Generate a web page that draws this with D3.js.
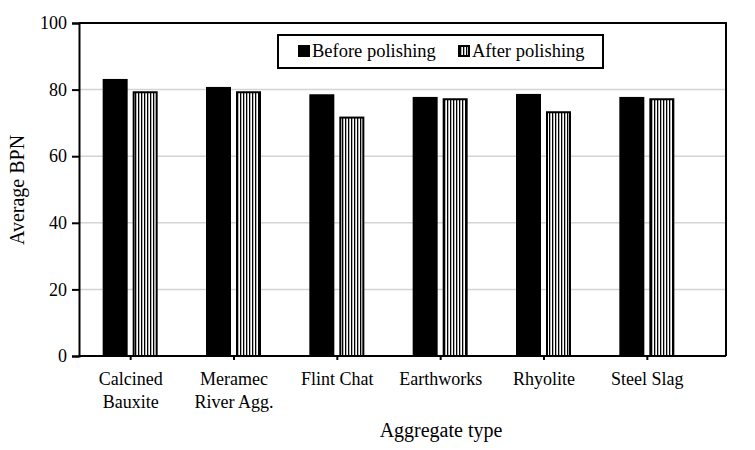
<!DOCTYPE html>
<html>
<head>
<meta charset="utf-8">
<script src="https://cdn.jsdelivr.net/npm/d3@7"></script>
<style>
  body { margin: 0; background: #fff; }
  svg text { font-family: "Liberation Serif", "Times New Roman", serif; fill: #000; }
</style>
</head>
<body>
<div id="chart"></div>
<script>
// data
var categories = [["Calcined", "Bauxite"], ["Meramec", "River Agg."], ["Flint Chat"], ["Earthworks"], ["Rhyolite"], ["Steel Slag"]];
var beforeValues = [83.2, 80.8, 78.6, 77.8, 78.7, 77.8];
var afterValues = [79.2, 79.2, 71.6, 77.1, 73.2, 77.1];
var yTicks = [0, 20, 40, 60, 80, 100];
var seriesNames = ["Before polishing", "After polishing"];

var width = 755, height = 450;
var plot = { left: 79, right: 726, top: 23, bottom: 356 };

var svg = d3.select("#chart").append("svg")
    .attr("width", width)
    .attr("height", height);

//vertical stripe pattern for the "after" bars
var defs = svg.append("defs");
var pat = defs.append("pattern")
    .attr("id", "vstripe")
    .attr("patternUnits", "userSpaceOnUse")
    .attr("width", 3)
    .attr("height", 10);
pat.append("rect").attr("width", 3).attr("height", 10).attr("fill", "#fff");
pat.append("rect").attr("x", 0).attr("width", 1.3).attr("height", 10).attr("fill", "#000");

var x = d3.scaleBand()
    .domain(d3.range(categories.length))
    .range([plot.left, 699]);

var y = d3.scaleLinear()
    .domain([0, 100])
    .range([plot.bottom, plot.top]);

//gridlines
svg.append("g")
    .selectAll("line")
    .data(yTicks.filter(function (d) { return d > 0 && d < 100; }))
    .enter().append("line")
    .attr("x1", plot.left).attr("x2", plot.right)
    .attr("y1", function (d) { return y(d); })
    .attr("y2", function (d) { return y(d); })
    .attr("stroke", "#d4d4d4")
    .attr("stroke-width", 1.5);

var barW = 25;

//before bars (solid)
svg.append("g")
    .selectAll("rect")
    .data(beforeValues)
    .enter().append("rect")
    .attr("x", function (d, i) { return x(i) + x.bandwidth() / 2 - 28; })
    .attr("y", function (d) { return y(d); })
    .attr("width", barW)
    .attr("height", function (d) { return y(0) - y(d); })
    .attr("fill", "#000");

//after bars (striped)
svg.append("g")
    .selectAll("rect")
    .data(afterValues)
    .enter().append("rect")
    .attr("x", function (d, i) { return x(i) + x.bandwidth() / 2 + 3; })
    .attr("y", function (d) { return y(d); })
    .attr("width", barW - 2)
    .attr("height", function (d) { return y(0) - y(d); })
    .attr("fill", "url(#vstripe)")
    .attr("stroke", "#000")
    .attr("stroke-width", 2);

//frame top + right
svg.append("path")
    .attr("d", "M" + plot.left + "," + plot.top + "H" + plot.right + "V" + plot.bottom)
    .attr("fill", "none")
    .attr("stroke", "#000")
    .attr("stroke-width", 2);

//y axis
var yAxis = svg.append("g")
    .attr("transform", "translate(" + plot.left + ",0)")
    .call(d3.axisLeft(y).tickValues(yTicks).tickSize(7).tickPadding(5));
yAxis.attr("font-family", null).attr("font-size", null);
yAxis.select(".domain").attr("stroke-width", 2);
yAxis.selectAll(".tick line").attr("stroke-width", 2);
yAxis.selectAll("text").style("font-size", "18px");

//x axis
var xAxis = svg.append("g")
    .attr("transform", "translate(0," + plot.bottom + ")")
    .call(d3.axisBottom(x).tickSizeOuter(0).tickSize(4).tickFormat(""));
xAxis.select(".domain").attr("stroke-width", 2).attr("d", "M" + plot.left + ",0H" + plot.right);
xAxis.selectAll(".tick line").attr("stroke-width", 2);

//category labels, one or two lines
var labels = svg.append("g")
    .selectAll("text")
    .data(categories)
    .enter().append("text")
    .attr("text-anchor", "middle")
    .attr("x", function (d, i) { return x(i) + x.bandwidth() / 2; })
    .attr("y", 385)
    .style("font-size", "18px");
labels.selectAll("tspan")
    .data(function (d) { return d; })
    .enter().append("tspan")
    .attr("x", function () { return d3.select(this.parentNode).attr("x"); })
    .attr("dy", function (d, i) { return i === 0 ? 0 : 23; })
    .text(function (d) { return d; });

//axis titles
svg.append("text")
    .attr("transform", "translate(24,190) rotate(-90)")
    .attr("text-anchor", "middle")
    .style("font-size", "20px")
    .text("Average BPN");

svg.append("text")
    .attr("x", 441)
    .attr("y", 437)
    .attr("text-anchor", "middle")
    .style("font-size", "20px")
    .text("Aggregate type");

//legend
var legend = svg.append("g");
legend.append("rect")
    .attr("x", 278).attr("y", 35)
    .attr("width", 325).attr("height", 33)
    .attr("fill", "#fff")
    .attr("stroke", "#000")
    .attr("stroke-width", 2);

var legendX = [298, 458];
seriesNames.forEach(function (name, i) {
    legend.append("rect")
        .attr("x", legendX[i]).attr("y", 45)
        .attr("width", i === 0 ? 12 : 10).attr("height", i === 0 ? 12 : 10)
        .attr("transform", i === 0 ? null : "translate(1,1)")
        .attr("fill", i === 0 ? "#000" : "url(#vstripe)")
        .attr("stroke", i === 0 ? "none" : "#000")
        .attr("stroke-width", 2);
    legend.append("text")
        .attr("x", legendX[i] + 14)
        .attr("y", 57)
        .style("font-size", "18.5px")
        .text(name);
});
</script>
</body>
</html>
